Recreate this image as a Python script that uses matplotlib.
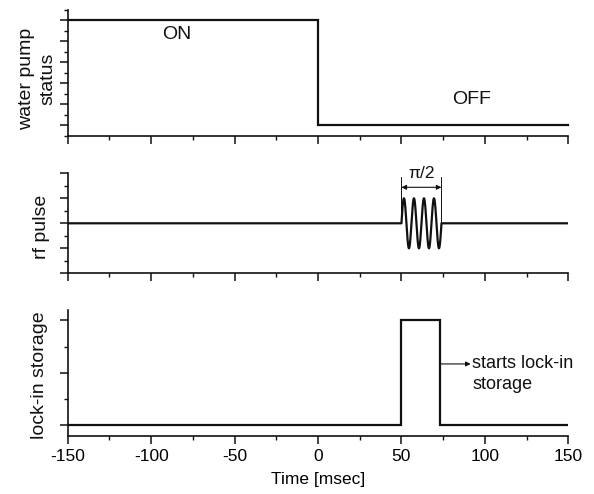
import numpy as np
import matplotlib
matplotlib.use("Agg")
import matplotlib.pyplot as plt
from matplotlib.ticker import MultipleLocator, FixedLocator

plt.rcParams['font.family'] = ['Liberation Sans', 'DejaVu Sans']

# ---- data ----
time_limits = (-150, 150)
x_tick_values = [-150, -100, -50, 0, 50, 100, 150]
x_tick_labels = ['-150', '-100', '-50', '0', '50', '100', '150']

pump_time = [-150, 0, 0, 150]
pump_status = [1, 1, 0, 0]

rf_start = 50
rf_end = 74
rf_cycles = 4
rf_amplitude = 0.5

lockin_time = [-150, 50, 50, 73, 73, 150]
lockin_level = [0, 0, 1, 1, 0, 0]

ylabels = ['water pump\nstatus', 'rf pulse', 'lock-in storage']

# ---- styling ----
LC = '#111111'
fig = plt.figure(figsize=(5.94, 4.94), dpi=100)
W, H = 594, 494
left, right = 67.7, 568.3

def make_ax(top_px, bot_px):
    ax = fig.add_axes([left / W, 1 - bot_px / H, (right - left) / W, (bot_px - top_px) / H])
    for s in ['top', 'right']:
        ax.spines[s].set_visible(False)
    for s in ['left', 'bottom']:
        ax.spines[s].set_linewidth(1.2)
        ax.spines[s].set_color(LC)
    ax.set_xlim(*time_limits)
    ax.xaxis.set_major_locator(FixedLocator(x_tick_values))
    ax.xaxis.set_minor_locator(MultipleLocator(25))
    ax.tick_params(which='major', direction='out', length=5.5, width=1.1, color=LC)
    ax.tick_params(which='minor', direction='out', length=2.7, width=1.0, color=LC)
    ax.tick_params(axis='y', which='both', labelleft=False)
    return ax

ax1 = make_ax(10, 135.7)
ax2 = make_ax(173.3, 273.3)
ax3 = make_ax(310, 435.7)

# panel 1: water pump
ax1.plot(pump_time, pump_status, color=LC, lw=1.6, solid_joinstyle='miter', clip_on=False)
ax1.set_ylim(-0.1, 1.1)
ax1.yaxis.set_major_locator(MultipleLocator(0.2))
ax1.yaxis.set_minor_locator(MultipleLocator(0.1))
ax1.tick_params(axis='x', labelbottom=False)
ax1.text(-84.7, 0.866, 'ON', fontsize=14, ha='center', va='center', color=LC)
ax1.text(92, 0.243, 'OFF', fontsize=14, ha='center', va='center', color=LC)

# panel 2: rf pulse
t_sine = np.linspace(rf_start, rf_end, 600)
y_sine = rf_amplitude * np.sin(2 * np.pi * rf_cycles * (t_sine - rf_start) / (rf_end - rf_start))
t_rf = np.concatenate([[time_limits[0]], t_sine, [time_limits[1]]])
y_rf = np.concatenate([[0], y_sine, [0]])
ax2.plot(t_rf, y_rf, color=LC, lw=1.6)
ax2.set_ylim(-1, 1)
ax2.yaxis.set_major_locator(MultipleLocator(0.5))
ax2.yaxis.set_minor_locator(MultipleLocator(0.25))
ax2.tick_params(axis='x', labelbottom=False)
for xv in (rf_start, rf_end):
    ax2.plot([xv, xv], [0, 0.93], color=LC, lw=0.7)
ax2.annotate('', xy=(rf_start, 0.72), xytext=(rf_end, 0.72),
             arrowprops=dict(arrowstyle='<|-|>', color=LC, lw=0.8,
                             mutation_scale=7, shrinkA=0, shrinkB=0))
ax2.text((rf_start + rf_end) / 2, 1.0, 'π/2', fontsize=12.5, ha='center', va='center', color=LC)

# panel 3: lock-in storage
ax3.plot(lockin_time, lockin_level, color=LC, lw=1.6, solid_joinstyle='miter')
ax3.set_ylim(-0.1, 1.1)
ax3.yaxis.set_major_locator(FixedLocator([0, 0.5, 1.0]))
ax3.yaxis.set_minor_locator(FixedLocator([0.25, 0.75]))
ax3.set_xticklabels(x_tick_labels, fontsize=12.5)
ax3.tick_params(axis='x', pad=4)
ax3.set_xlabel('Time [msec]', fontsize=12.5, labelpad=6)
ax3.annotate('', xy=(91.5, 0.585), xytext=(73, 0.585),
             arrowprops=dict(arrowstyle='-|>', color=LC, lw=0.8,
                             mutation_scale=7, shrinkA=0, shrinkB=0))
ax3.text(92.5, 0.585, 'starts lock-in', fontsize=13, ha='left', va='center', color=LC)
ax3.text(92.5, 0.385, 'storage', fontsize=13, ha='left', va='center', color=LC)

# y labels
fig.text(37 / W, 1 - 79 / H, ylabels[0], rotation=90, fontsize=14,
         ha='center', va='center', multialignment='center', color=LC, linespacing=1.3)
fig.text(41 / W, 1 - 226.7 / H, ylabels[1], rotation=90, fontsize=14,
         ha='center', va='center', color=LC)
fig.text(39 / W, 1 - 375 / H, ylabels[2], rotation=90, fontsize=14,
         ha='center', va='center', color=LC)

fig.savefig('out.png', dpi=100)
